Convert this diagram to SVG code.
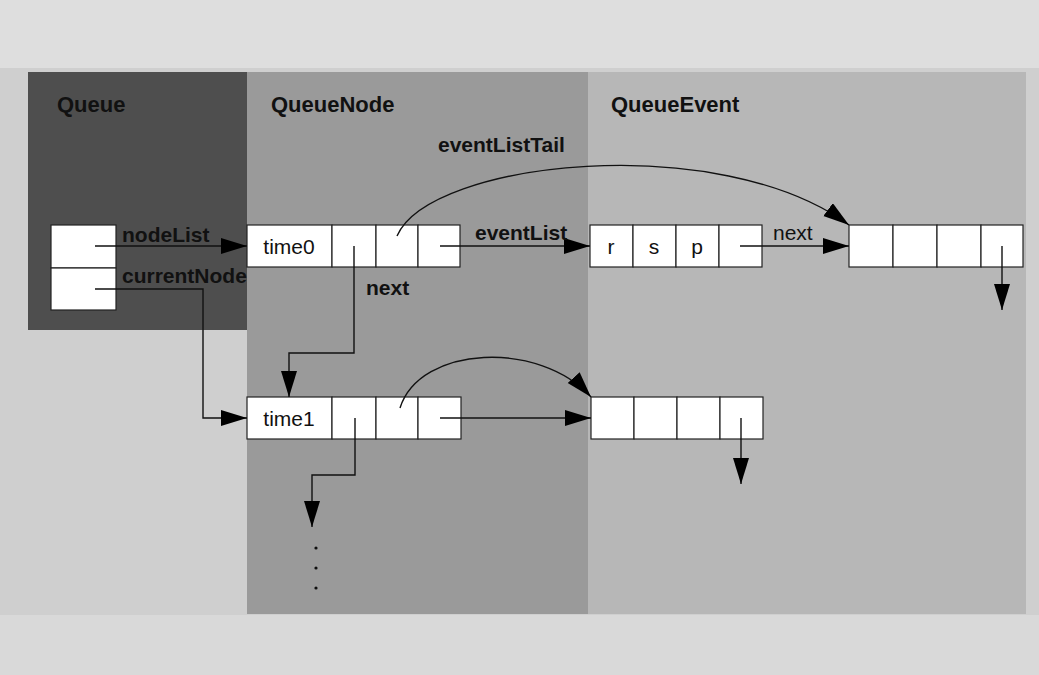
<svg xmlns="http://www.w3.org/2000/svg" width="1039" height="675" viewBox="0 0 1039 675">
<style>
.cell{fill:#fff;stroke:#222;stroke-width:1.2}
.ln{fill:none;stroke:#111;stroke-width:1.4}
.arr{marker-end:url(#ah)}
.t{font-family:"Liberation Sans",Arial,sans-serif;font-size:21px;fill:#111}
.b{font-weight:bold}
.title{font-family:"Liberation Sans",Arial,sans-serif;font-size:22px;font-weight:bold;fill:#111}
</style>
<defs>
<marker id="ah" markerUnits="userSpaceOnUse" markerWidth="28" markerHeight="18" refX="26" refY="8" orient="auto">
<path d="M0,0 L26,8 L0,16 z" fill="#000"/>
</marker>
</defs>
<g id="background">
<rect x="0" y="0" width="1039" height="675" fill="#cfcfcf"/>
<rect x="0" y="0" width="1039" height="68" fill="#dedede"/>
<rect x="0" y="615" width="1039" height="60" fill="#d9d9d9"/>
<rect x="588" y="72" width="438" height="542" fill="#b7b7b7"/>
<rect x="247" y="72" width="341" height="542" fill="#9a9a9a"/>
<rect x="28" y="72" width="219" height="258" fill="#4e4e4e"/>
</g>
<g id="titles">
<text class="title" x="57" y="112">Queue</text>
<text class="title" x="271" y="112">QueueNode</text>
<text class="title" x="611" y="112">QueueEvent</text>
</g>
<g id="queue">
<rect class="cell" x="51" y="225" width="65" height="43"/>
<rect class="cell" x="51" y="268" width="65" height="42"/>
</g>
<g id="time0">
<rect class="cell" x="247" y="225" width="85" height="42"/>
<rect class="cell" x="332" y="225" width="44" height="42"/>
<rect class="cell" x="376" y="225" width="42" height="42"/>
<rect class="cell" x="418" y="225" width="42" height="42"/>
<text class="t" x="289" y="254" text-anchor="middle">time0</text>
</g>
<g id="time1">
<rect class="cell" x="247" y="397" width="85" height="42"/>
<rect class="cell" x="332" y="397" width="44" height="42"/>
<rect class="cell" x="376" y="397" width="42" height="42"/>
<rect class="cell" x="418" y="397" width="43" height="42"/>
<text class="t" x="289" y="426" text-anchor="middle">time1</text>
</g>
<g id="event-rsp">
<rect class="cell" x="590" y="225" width="43" height="42"/>
<rect class="cell" x="633" y="225" width="43" height="42"/>
<rect class="cell" x="676" y="225" width="43" height="42"/>
<rect class="cell" x="719" y="225" width="43" height="42"/>
<text class="t" x="611" y="254" text-anchor="middle">r</text>
<text class="t" x="654" y="254" text-anchor="middle">s</text>
<text class="t" x="697" y="254" text-anchor="middle">p</text>
</g>
<g id="event-tail">
<rect class="cell" x="849" y="225" width="44" height="42"/>
<rect class="cell" x="893" y="225" width="44" height="42"/>
<rect class="cell" x="937" y="225" width="44" height="42"/>
<rect class="cell" x="981" y="225" width="42" height="42"/>
</g>
<g id="event-row2">
<rect class="cell" x="591" y="397" width="43" height="42"/>
<rect class="cell" x="634" y="397" width="43" height="42"/>
<rect class="cell" x="677" y="397" width="43" height="42"/>
<rect class="cell" x="720" y="397" width="43" height="42"/>
</g>
<g id="connectors">
<path class="ln arr" d="M95,246 H247"/>
<path class="ln arr" d="M95,289 H203 V418 H247"/>
<path class="ln arr" d="M354,246 V353 H289 V397"/>
<path class="ln arr" d="M355,418 V475 H312 V527"/>
<path class="ln arr" d="M440,246 H590"/>
<path class="ln arr" d="M740,246 H849"/>
<path class="ln arr" d="M1002,246 V310"/>
<path class="ln arr" d="M397,236 C430,160 720,130 849,225"/>
<path class="ln arr" d="M440,418 H591"/>
<path class="ln arr" d="M400,408 C420,345 540,340 591,397"/>
<path class="ln arr" d="M741,418 V484"/>
<circle cx="316" cy="548" r="1.6" fill="#111"/>
<circle cx="316" cy="568" r="1.6" fill="#111"/>
<circle cx="316" cy="588" r="1.6" fill="#111"/>
</g>
<g id="labels">
<text class="t b" x="122" y="242">nodeList</text>
<text class="t b" x="122" y="283">currentNode</text>
<text class="t b" x="366" y="295">next</text>
<text class="t b" x="475" y="240">eventList</text>
<text class="t b" x="438" y="152">eventListTail</text>
<text class="t" x="773" y="240">next</text>
</g>
</svg>
